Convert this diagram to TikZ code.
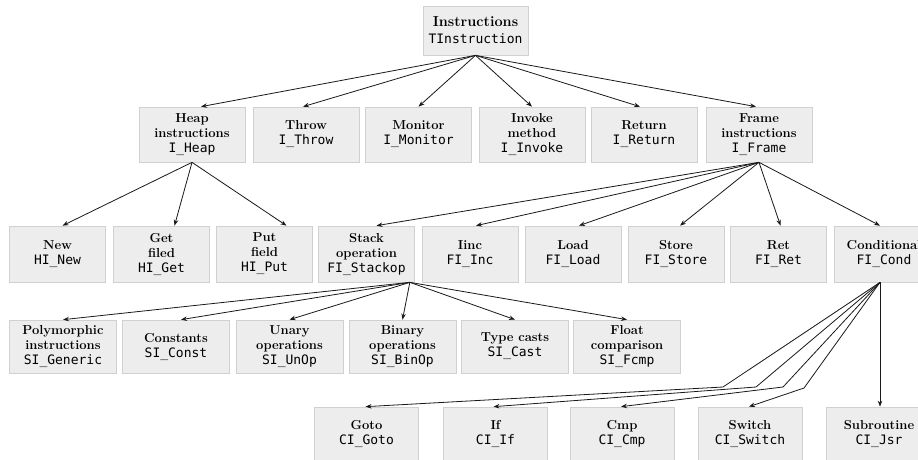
\documentclass[tikz,border=0pt]{standalone}
\usepackage{fontspec}
\newfontfamily\boxcode{DejaVu Sans Mono}
\usetikzlibrary{arrows.meta}
\definecolor{boxfill}{RGB}{237,237,237}
\definecolor{boxline}{RGB}{208,208,208}
\definecolor{edgecol}{RGB}{25,25,25}
\newcommand\boxtitle{\bfseries}

\begin{document}
\begin{tikzpicture}[x=1pt,y=-1pt,
  box/.style={draw=boxline, fill=boxfill, line width=0.7pt, inner sep=0pt,
    align=center, font=\fontsize{13}{15}\selectfont},
  top/.style={box, minimum width=105pt, minimum height=49pt},
  lvtwo/.style={box, minimum width=106pt, minimum height=55pt},
  lvthree/.style={box, minimum width=96pt, minimum height=56pt},
  lvfour/.style={box, minimum width=107pt, minimum height=53pt},
  lvfive/.style={box, minimum width=104pt, minimum height=54pt},
  edge/.style={draw=edgecol, line width=0.8pt, -{Stealth[length=6pt,width=4.5pt]}}]

\useasboundingbox[fill=white] (0,0) rectangle (918,459);

% root
\node[top, font=\fontsize{13}{17}\selectfont] (root) at (475.5,30.5)
  {{\fontsize{14.5}{17}\selectfont\boxtitle Instructions}\\{\boxcode TInstruction}};

% second level
\node[lvtwo] (heap) at (192,134.5) {{\boxtitle Heap}\\{\boxtitle instructions}\\{\boxcode I\_Heap}};
\node[lvtwo] (throw) at (306,134.5) {{\boxtitle Throw}\\{\boxcode I\_Throw}};
\node[lvtwo] (monitor) at (418.5,134.5) {{\boxtitle Monitor}\\{\boxcode I\_Monitor}};
\node[lvtwo] (invoke) at (532,134.5) {{\boxtitle Invoke}\\{\boxtitle method}\\{\boxcode I\_Invoke}};
\node[lvtwo] (return) at (644,134.5) {{\boxtitle Return}\\{\boxcode I\_Return}};
\node[lvtwo] (frame) at (759,134.5) {{\boxtitle Frame}\\{\boxtitle instructions}\\{\boxcode I\_Frame}};

% third level
\node[lvthree] (new) at (57.5,254) {{\boxtitle New}\\{\boxcode HI\_New}};
\node[lvthree] (get) at (161.5,254) {{\boxtitle Get}\\{\boxtitle filed}\\{\boxcode HI\_Get}};
\node[lvthree] (put) at (264.5,254) {{\boxtitle Put}\\{\boxtitle field}\\{\boxcode HI\_Put}};
\node[lvthree] (stack) at (366.5,254) {{\boxtitle Stack}\\{\boxtitle operation}\\{\boxcode FI\_Stackop}};
\node[lvthree] (iinc) at (470,254) {{\boxtitle Iinc}\\{\boxcode FI\_Inc}};
\node[lvthree] (load) at (573,254) {{\boxtitle Load}\\{\boxcode FI\_Load}};
\node[lvthree] (store) at (676,254) {{\boxtitle Store}\\{\boxcode FI\_Store}};
\node[lvthree] (ret) at (778.5,254) {{\boxtitle Ret}\\{\boxcode FI\_Ret}};
\node[lvthree, minimum width=100pt] (cond) at (884,254) {{\boxtitle Conditional}\\{\boxcode FI\_Cond}};

% fourth level
\node[lvfour] (generic) at (63,346.5) {{\boxtitle Polymorphic}\\{\boxtitle instructions}\\{\boxcode SI\_Generic}};
\node[lvfour] (const) at (176,346.5) {{\boxtitle Constants}\\{\boxcode SI\_Const}};
\node[lvfour] (unop) at (289.5,346.5) {{\boxtitle Unary}\\{\boxtitle operations}\\{\boxcode SI\_UnOp}};
\node[lvfour] (binop) at (402.5,346.5) {{\boxtitle Binary}\\{\boxtitle operations}\\{\boxcode SI\_BinOp}};
\node[lvfour] (cast) at (515,346.5) {{\boxtitle Type casts}\\{\boxcode SI\_Cast}};
\node[lvfour] (fcmp) at (627,346.5) {{\boxtitle Float}\\{\boxtitle comparison}\\{\boxcode SI\_Fcmp}};

% fifth level
\node[lvfive] (goto) at (366.5,434) {{\boxtitle Goto}\\{\boxcode CI\_Goto}};
\node[lvfive] (if) at (495.5,434) {{\boxtitle If}\\{\boxcode CI\_If}};
\node[lvfive] (cmp) at (622,434) {{\boxtitle Cmp}\\{\boxcode CI\_Cmp}};
\node[lvfive] (switch) at (750,434) {{\boxtitle Switch}\\{\boxcode CI\_Switch}};
\node[lvfive, minimum width=106pt] (jsr) at (879,434) {{\boxtitle Subroutine}\\{\boxcode CI\_Jsr}};

% bend points of the conditional branches
\coordinate (bgoto) at (723,387);
\coordinate (bif) at (756,387);
\coordinate (bcmp) at (783,387);
\coordinate (bswitch) at (804,388);
\coordinate (condout) at ([xshift=-4pt]cond.south);

% root edges
\draw[edge] (root.south) -- ([xshift=9pt]heap.north);
\draw[edge] (root.south) -- ([xshift=-3pt]throw.north);
\draw[edge] (root.south) -- (monitor.north);
\draw[edge] (root.south) -- (invoke.north);
\draw[edge] (root.south) -- ([xshift=-4pt]return.north);
\draw[edge] (root.south) -- ([xshift=-3pt]frame.north);

% heap edges
\draw[edge] (heap.south) -- ([xshift=5pt]new.north);
\draw[edge] (heap.south) -- ([xshift=13pt]get.north);
\draw[edge] (heap.south) -- ([xshift=22pt]put.north);

% frame edges
\draw[edge] (frame.south) -- ([xshift=10pt]stack.north);
\draw[edge] (frame.south) -- ([xshift=6pt]iinc.north);
\draw[edge] (frame.south) -- ([xshift=6pt]load.north);
\draw[edge] (frame.south) -- ([xshift=4pt]store.north);
\draw[edge] (frame.south) -- ([xshift=2pt]ret.north);
\draw[edge] (frame.south) -- ([xshift=-4pt]cond.north);

% stack operation edges
\draw[edge] ([xshift=-5pt]stack.south east) -- (generic.north);
\draw[edge] ([xshift=-5pt]stack.south east) -- ([xshift=5pt]const.north);
\draw[edge] ([xshift=-5pt]stack.south east) -- (unop.north);
\draw[edge] ([xshift=-5pt]stack.south east) -- (binop.north);
\draw[edge] ([xshift=-5pt]stack.south east) -- (cast.north);
\draw[edge] ([xshift=-5pt]stack.south east) -- (fcmp.north);

% conditional edges
\draw[edge] (condout) -- (bgoto) -- ([xshift=-1pt]goto.north);
\draw[edge] (condout) -- (bif) -- ([xshift=-2pt]if.north);
\draw[edge] (condout) -- (bcmp) -- ([xshift=-1pt]cmp.north);
\draw[edge] (condout) -- (bswitch) -- ([xshift=-1pt]switch.north);
\draw[edge] (condout) -- (condout |- jsr.north);

\end{tikzpicture}
\end{document}
